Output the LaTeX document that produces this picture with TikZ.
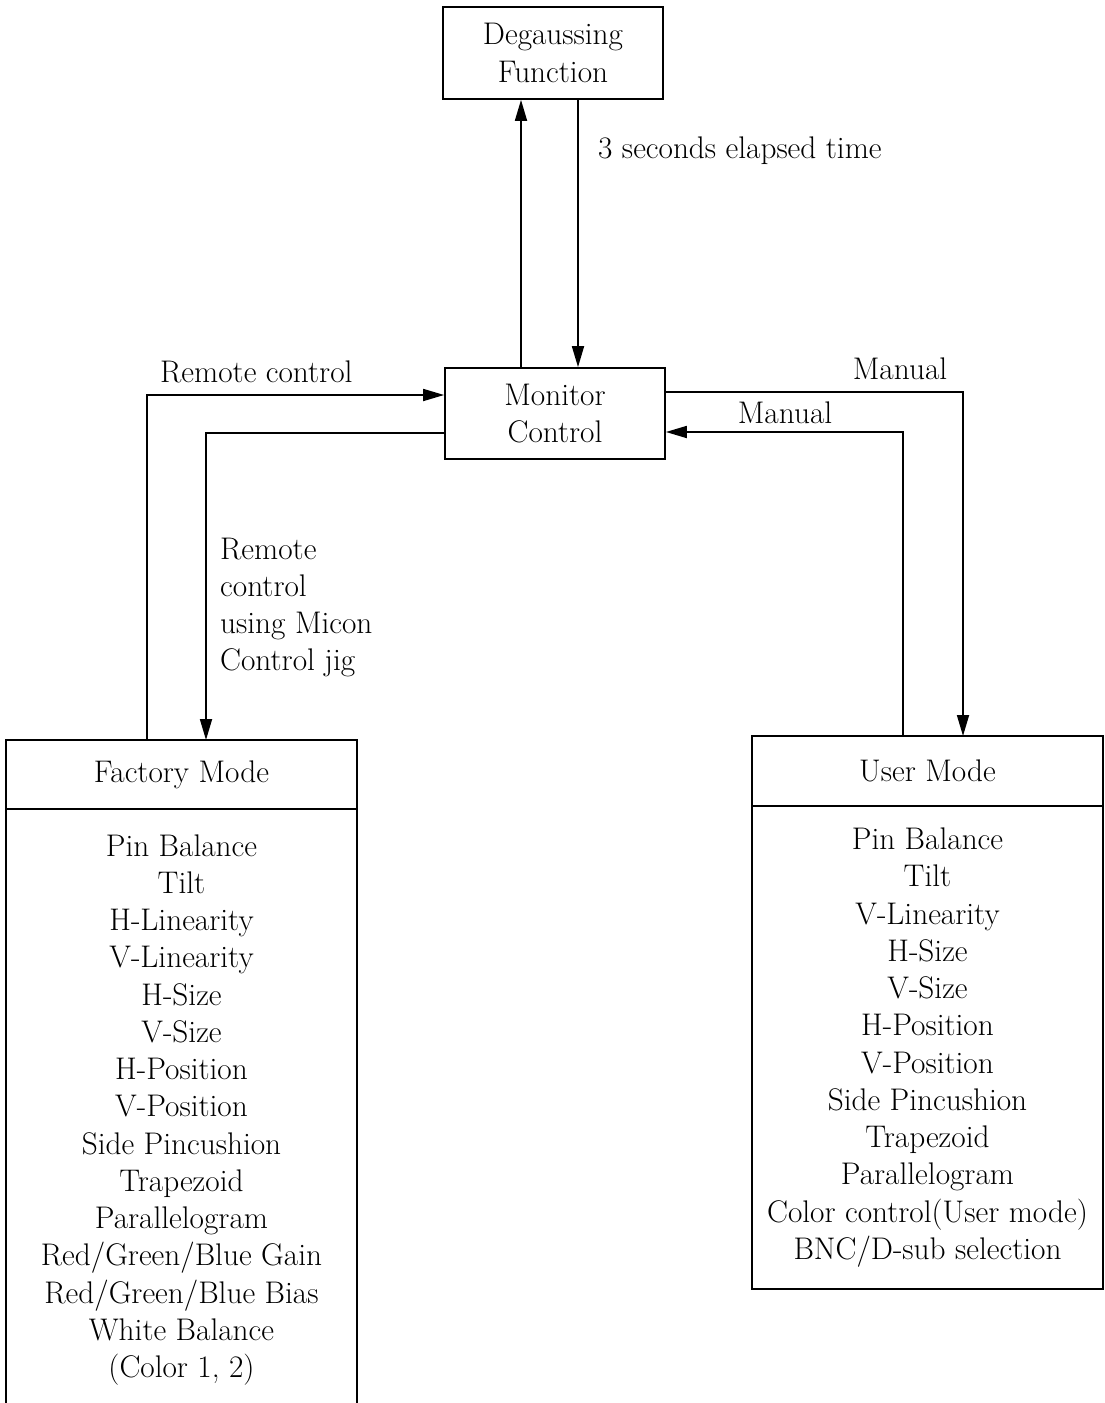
\documentclass[tikz,border=0pt]{standalone}
\usetikzlibrary{arrows.meta}
\begin{document}
\begin{tikzpicture}[
    every node/.style={font=\fontsize{17.8}{21.2}\selectfont},
    block/.style={draw, line width=1pt, align=center, minimum width=4.4cm},
    modebox/.style={draw, line width=1pt, align=center, outer sep=0pt, minimum width=7.02cm},
    wire/.style={line width=1pt, -{Triangle[length=0.42cm,width=0.24cm]}},
  ]
    \useasboundingbox (0,0) rectangle (22.08,-28.06);
    % First, locate the control boxes and name them
    \node[block, minimum height=1.84cm] (degauss) at (11.06,-1.06) {Degaussing\\Function};
    \node[block, minimum height=1.82cm] (monitor) at (11.1,-8.27) {Monitor\\Control};
    % the mode boxes: a heading and the list of adjustments below it
    \node[modebox, minimum height=1.38cm] (factory) at (3.63,-15.49) {Factory Mode};
    \node[modebox, anchor=north, minimum height=12.04cm] (factorylist) at (factory.south)
      {Pin Balance\\Tilt\\H-Linearity\\V-Linearity\\H-Size\\V-Size\\H-Position\\V-Position\\
       Side Pincushion\\Trapezoid\\Parallelogram\\Red/Green/Blue Gain\\Red/Green/Blue Bias\\
       White Balance\\(Color 1, 2)};
    \node[modebox, minimum height=1.4cm] (user) at (18.55,-15.42) {User Mode};
    \node[modebox, anchor=north, minimum height=9.66cm] (userlist) at (user.south)
      {Pin Balance\\Tilt\\V-Linearity\\H-Size\\V-Size\\H-Position\\V-Position\\
       Side Pincushion\\Trapezoid\\Parallelogram\\Color control(User mode)\\BNC/D-sub selection};
    % Now draw the connections
    \draw[wire] ([xshift=-0.68cm]monitor.north) -- ([xshift=-0.68cm]monitor.north |- degauss.south);
    \draw[wire] ([xshift=0.46cm]monitor.north |- degauss.south) -- ([xshift=0.46cm]monitor.north);
    \draw[wire] ([xshift=-0.69cm]factory.north) |- ([yshift=0.37cm]monitor.west);
    \draw[wire] ([yshift=-0.39cm]monitor.west) -| ([xshift=0.49cm]factory.north);
    \draw[wire] ([yshift=0.43cm]monitor.east) -| ([xshift=0.71cm]user.north);
    \draw[wire] ([xshift=-0.49cm]user.north) |- ([yshift=-0.37cm]monitor.east);
    % and the labels on them
    \node[anchor=west] (elapsed) at (11.84,-3.02) {3 seconds elapsed time};
    \node[anchor=west] (remote) at (3.08,-7.44) {Remote control};
    \node[anchor=west, align=left] (jig) at (4.28,-12.15) {Remote\\control\\using Micon\\Control jig};
    \node (manualout) at (18.0,-7.38) {Manual};
    \node (manualin) at (15.7,-8.26) {Manual};
\end{tikzpicture}
\end{document}
